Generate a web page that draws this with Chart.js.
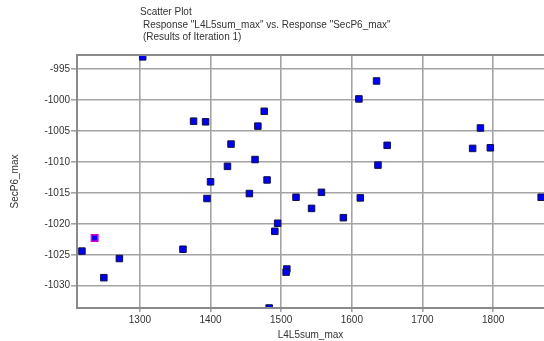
<!DOCTYPE html>
<html>
<head>
<meta charset="utf-8">
<script src="https://cdn.jsdelivr.net/npm/chart.js@4.4.1/dist/chart.umd.min.js"></script>
<style>
  html, body { margin: 0; padding: 0; background: #fff; }
  #wrap { position: relative; width: 544px; height: 341px; }
  #title { position: absolute; left: 140px; top: 6px; font: 10px "Liberation Sans", Arial, sans-serif; color: #333; line-height: 12.5px; }
  #title div.sub { padding-left: 3px; }
</style>
</head>
<body>
<div id="wrap">
  <canvas id="scatterChart" width="544" height="341"></canvas>
  <div id="title">
    <div>Scatter Plot</div>
    <div class="sub">Response "L4L5sum_max" vs. Response "SecP6_max"</div>
    <div class="sub">(Results of Iteration 1)</div>
  </div>
</div>
<script>
// ** Data **
const l4l5sum = [1304, 1376, 1393, 1476, 1467, 1429, 1463, 1424, 1400, 1480,
    1635, 1610, 1650, 1637, 1782, 1771, 1796, 1557, 1395, 1455,
    1218, 1271, 1249, 1361, 1483, 1495, 1491, 1521, 1543, 1588,
    1612, 1868, 1508, 1507];
const secP6 = [-993.0, -1003.4, -1003.5, -1001.8, -1004.2, -1007.1, -1009.6, -1010.7, -1013.2, -1012.9,
    -996.9, -999.8, -1007.3, -1010.5, -1004.5, -1007.8, -1007.7, -1014.9, -1015.9, -1015.1,
    -1024.4, -1025.6, -1028.7, -1024.1, -1033.6, -1019.9, -1021.2, -1015.7, -1017.5, -1019.0,
    -1015.8, -1015.7, -1027.3, -1027.8];

// highlighted design (magenta outline)
const selectedX = [1236];
const selectedY = [-1022.3];

const xTicks = [1300, 1400, 1500, 1600, 1700, 1800];
const yTicks = [-1030, -1025, -1020, -1015, -1010, -1005, -1000, -995];

const toPoints = (xs, ys) => xs.map((x, i) => ({ x: x, y: ys[i] }));

// ** Frame along top and left of the plot **
const framePlugin = {
    id: "frame",
    afterDraw(chart) {
        const { ctx, chartArea } = chart;
        ctx.save();
        ctx.strokeStyle = "#8a8a8a";
        ctx.lineWidth = 2;
        ctx.beginPath();
        ctx.moveTo(chartArea.right, chartArea.top);
        ctx.lineTo(chartArea.left, chartArea.top);
        ctx.lineTo(chartArea.left, chartArea.bottom);
        ctx.lineTo(chartArea.right, chartArea.bottom);
        ctx.stroke();
        ctx.restore();
    }
};

const tickFont = { family: "'Liberation Sans', Arial, sans-serif", size: 10 };
const titleFont = { family: "'Liberation Sans', Arial, sans-serif", size: 10 };

new Chart(document.getElementById("scatterChart").getContext("2d"), {
    type: "scatter",
    data: {
        datasets: [
            {
                label: "Iteration 1",
                data: toPoints(l4l5sum, secP6),
                pointStyle: "rect",
                pointRadius: 4.6,
                pointHoverRadius: 4.6,
                backgroundColor: "#0000f0",
                borderColor: "#10104a",
                borderWidth: 1,
                clip: 0
            },
            {
                label: "Selected",
                data: toPoints(selectedX, selectedY),
                pointStyle: "rect",
                pointRadius: 4.6,
                pointHoverRadius: 4.6,
                backgroundColor: "#0000f0",
                borderColor: "#e000e0",
                borderWidth: 1.5,
                clip: 0
            }
        ]
    },
    options: {
        responsive: false,
        animation: false,
        layout: { autoPadding: false, padding: { top: 55, right: 0, left: 0, bottom: 0 } },
        plugins: { legend: { display: false }, tooltip: { enabled: false } },
        scales: {
            x: {
                type: "linear",
                min: 1211,
                max: 1872,
                afterBuildTicks: axis => { axis.ticks = xTicks.map(v => ({ value: v })); },
                afterFit: axis => { axis.height = 33; },
                grid: { color: "#a4a4a4", lineWidth: 1.6, tickLength: 4, drawTicks: true },
                border: { display: false },
                ticks: { color: "#333", font: tickFont, padding: 2, maxRotation: 0, callback: v => String(v) },
                title: { display: true, text: "L4L5sum_max", color: "#333", font: titleFont, padding: { top: 1, bottom: 0 } }
            },
            y: {
                type: "linear",
                min: -1033.6,
                max: -992.7,
                afterBuildTicks: axis => { axis.ticks = yTicks.map(v => ({ value: v })); },
                afterFit: axis => { axis.width = 77; },
                grid: { color: "#a4a4a4", lineWidth: 1.6, tickLength: 6, drawTicks: true },
                border: { display: false },
                ticks: { color: "#333", font: tickFont, padding: 1, callback: v => String(v) },
                title: { display: true, text: "SecP6_max", color: "#333", font: titleFont, padding: { top: 9, bottom: 4 } }
            }
        }
    },
    plugins: [framePlugin]
});
</script>
</body>
</html>
